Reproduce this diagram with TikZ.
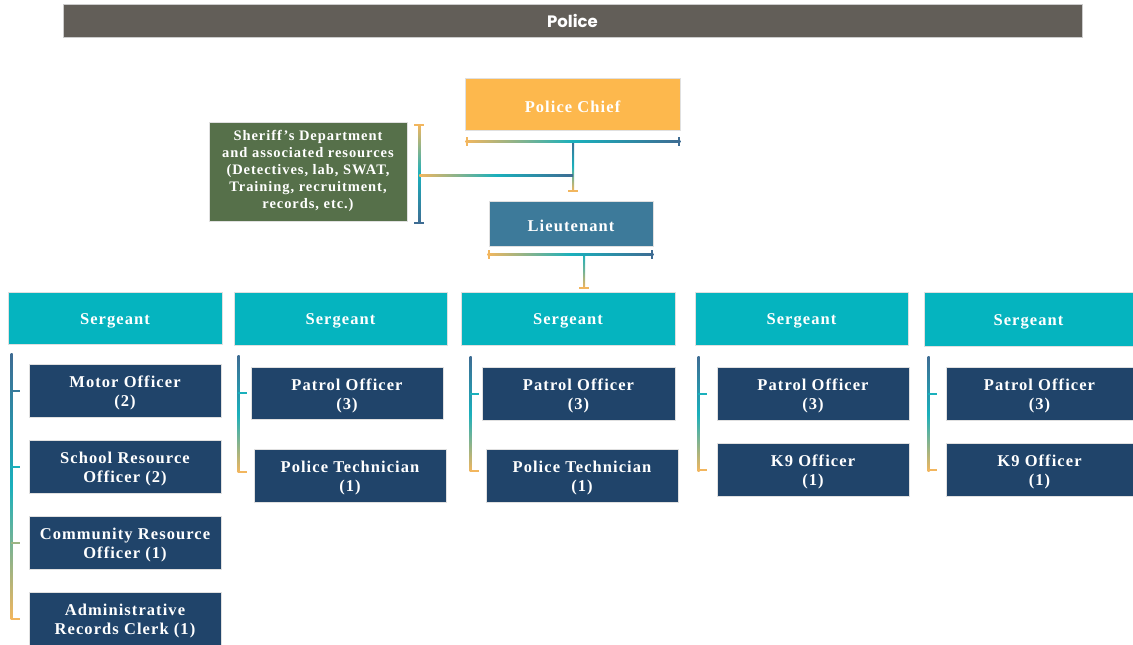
\documentclass[tikz,border=0pt]{standalone}
\usepackage{fontspec}
\setmainfont{Liberation Serif}
\newfontfamily\boxfont[LetterSpace=6.5]{Liberation Serif}
\newfontfamily\titlefont{Poppins}
\usetikzlibrary{calc}

\definecolor{barGray}{HTML}{625E58}
\definecolor{chiefCol}{HTML}{FDB84D}
\definecolor{sheriffCol}{HTML}{56704A}
\definecolor{ltCol}{HTML}{3D7A9A}
\definecolor{sgtCol}{HTML}{05B4BF}
\definecolor{offCol}{HTML}{20446A}
\definecolor{cA}{HTML}{F2B65E}
\definecolor{cT}{HTML}{1AB0BC}
\definecolor{cB}{HTML}{3E6C93}

% box with corners (x1,y1)-(x2,y2); label offset downwards by #8
\newcommand\bxo[8]{%
  \node[boxbase,#2,minimum width={#5pt-#3pt},minimum height={#6pt-#4pt}] (#1) at ({(#3+#5)/2},{(#4+#6)/2}) {};
  \node[boxtext,#2,fill=none,draw=none] at ($(#1.center)+(0,#8)$) {#7};}
\newcommand\bx[7]{\bxo{#1}{#2}{#3}{#4}{#5}{#6}{#7}{2.5}}
% horizontal bracket between two coordinates at the same height
\newcommand\hlink[2]{%
  \shade[left color=cA,right color=cB,middle color=cT] ($(#1)+(0,-1)$) rectangle ($(#2)+(0,1)$);
  \fill[cA] ($(#1)+(0,-4.5)$) rectangle ($(#1)+(2,4.5)$);
  \fill[cB] ($(#2)+(-2,-4.5)$) rectangle ($(#2)+(0,4.5)$);}
% vertical gradient line: top, bottom, top/middle/bottom colours
\newcommand\vgrad[5]{%
  \shade[top color=#3,bottom color=#5,middle color=#4] ($(#1)+(-1,0)$) rectangle ($(#2)+(1,0)$);}
% short horizontal cap centred on a point
\newcommand\hcap[2]{\fill[#2] ($(#1)+(-5,-1)$) rectangle ($(#1)+(5,1)$);}
% tick from a vertical line towards a box
\newcommand\tick[3]{\fill[#3] ($(#1 |- #2.west)+(-1,-1)$) rectangle ($(#1 |- #2.west)+(8,1)$);}

\begin{document}
\begin{tikzpicture}[x=1pt,y=-1pt,
  boxbase/.style={draw=black!12,line width=0.6pt,inner sep=0pt},
  boxtext/.style={text=white,align=center,inner sep=0pt,
    font=\boxfont\bfseries\fontsize{16.5}{19}\selectfont},
  chiefbox/.style={fill=chiefCol},
  sheriffbox/.style={fill=sheriffCol,font=\boxfont\bfseries\fontsize{14.5}{17}\selectfont},
  ltbox/.style={fill=ltCol},
  sgtbox/.style={fill=sgtCol},
  offbox/.style={fill=offCol},
  titlebar/.style={fill=barGray,draw=black!20,line width=0.6pt,text=white,inner sep=0pt,
    font=\titlefont\bfseries\fontsize{16.5}{18}\selectfont}]
\useasboundingbox (0,0) rectangle (1133,645);

% title bar
\node[titlebar,minimum width=1019pt,minimum height=33pt] (title) at (572.5,21) {Police};

% command level
\bx{chief}{chiefbox}{465}{78}{680}{130}{Police Chief}
\bxo{sh}{sheriffbox}{209}{122}{407}{221}{Sheriff’s Department\\and associated resources\\(Detectives, lab, SWAT,\\Training, recruitment,\\records, etc.)}{-0.5}
\bx{lt}{ltbox}{489}{201}{653}{246}{Lieutenant}

% sergeants
\bx{s1}{sgtbox}{8}{292}{222}{344}{Sergeant}
\bx{s2}{sgtbox}{234}{292}{447}{345}{Sergeant}
\bx{s3}{sgtbox}{461}{292}{675}{345}{Sergeant}
\bx{s4}{sgtbox}{695}{292}{908}{345}{Sergeant}
\bx{s5}{sgtbox}{924}{292}{1133}{346}{Sergeant}

% officers, first sergeant
\bx{a1}{offbox}{29}{364}{221}{417}{Motor Officer\\(2)}
\bx{a2}{offbox}{29}{440}{221}{493}{School Resource\\Officer (2)}
\bx{a3}{offbox}{29}{516}{221}{569}{Community Resource\\Officer (1)}
\bx{a4}{offbox}{29}{592}{221}{645}{Administrative\\Records Clerk (1)}
% second sergeant
\bx{b1}{offbox}{251}{367}{443}{419}{Patrol Officer\\(3)}
\bx{b2}{offbox}{254}{449}{446}{502}{Police Technician\\(1)}
% third sergeant
\bx{c1}{offbox}{482}{367}{675}{420}{Patrol Officer\\(3)}
\bx{c2}{offbox}{486}{449}{678}{502}{Police Technician\\(1)}
% fourth sergeant
\bx{d1}{offbox}{717}{367}{909}{420}{Patrol Officer\\(3)}
\bx{d2}{offbox}{717}{443}{909}{496}{K9 Officer\\(1)}
% fifth sergeant
\bx{e1}{offbox}{946}{367}{1133}{420}{Patrol Officer\\(3)}
\bx{e2}{offbox}{946}{443}{1133}{496}{K9 Officer\\(1)}

% chief bracket and link down to the lieutenant
\coordinate (chL) at ($(chief.south west)+(1,11)$);
\coordinate (chR) at ($(chief.south east)+(0,11)$);
\coordinate (chM) at ($(chief.south)+(0.5,11)$);
\coordinate (chV) at ($(chM |- lt.north)+(0,-10)$);
\vgrad{chM}{chV}{cB}{cT}{cA}
\hlink{chL}{chR}
\hcap{chV}{cA}

% sheriff link
\coordinate (shT) at ($(sh.north east)+(12,3)$);
\coordinate (shB) at ($(sh.south east)+(12,2)$);
\coordinate (shJ) at ($(sh.east)+(12,3.5)$);
\coordinate (shK) at (shJ -| chM);
\vgrad{shT}{shB}{cA}{cT}{cB}
\shade[left color=cA,right color=cB,middle color=cT] ($(shJ)+(0,-1)$) rectangle ($(shK)+(0,1)$);
\hcap{shT}{cA}
\hcap{shB}{cB}

% lieutenant bracket and link down to the sergeants
\coordinate (ltL) at ($(lt.south west)+(-1,8)$);
\coordinate (ltR) at ($(lt.south east)+(0,8)$);
\coordinate (ltM) at ($(lt.south)+(13,8)$);
\coordinate (ltV) at ($(ltM |- s3.north)+(0,-4)$);
\vgrad{ltM}{ltV}{cT}{cT!60!cA}{cA}
\hlink{ltL}{ltR}
\hcap{ltV}{cA}

% sergeant groups
\coordinate (g1) at ($(s1.south west)+(4,9)$);
\vgrad{g1}{$(g1 |- a4.west)+(0,1)$}{cB}{cT}{cA}
\tick{g1}{a1}{cB!80!cT}
\tick{g1}{a2}{cT}
\tick{g1}{a3}{cT!40!cA}
\tick{g1}{a4}{cA}

\coordinate (g2) at ($(s2.south west)+(5,10)$);
\vgrad{g2}{$(g2 |- b2.west)+(0,-3)$}{cB}{cT}{cA}
\tick{g2}{b1}{cT}
\fill[cA] ($(g2 |- b2.west)+(-1,-5)$) rectangle ($(g2 |- b2.west)+(8,-3)$);

\coordinate (g3) at ($(s3.south west)+(10,11)$);
\vgrad{g3}{$(g3 |- c2.west)+(0,-4)$}{cB}{cT}{cA}
\tick{g3}{c1}{cT}
\fill[cA] ($(g3 |- c2.west)+(-1,-6)$) rectangle ($(g3 |- c2.west)+(8,-4)$);

\coordinate (g4) at ($(s4.south west)+(4,11)$);
\vgrad{g4}{$(g4 |- d2.west)+(0,2)$}{cB}{cT}{cA}
\tick{g4}{d1}{cT}
\tick{g4}{d2}{cA}

\coordinate (g5) at ($(s5.south west)+(5,10)$);
\vgrad{g5}{$(g5 |- e2.west)+(0,2)$}{cB}{cT}{cA}
\tick{g5}{e1}{cT}
\tick{g5}{e2}{cA}
\end{tikzpicture}
\end{document}
